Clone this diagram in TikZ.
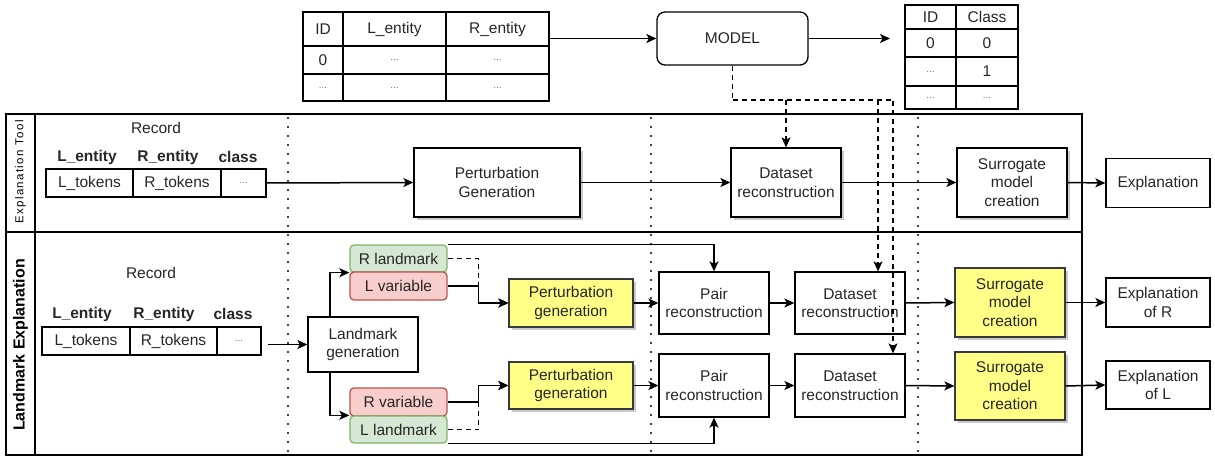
\documentclass[tikz,border=0pt]{standalone}
\usepackage{fontspec}
\setmainfont{Liberation Sans}
\newfontfamily\spacedsf[LetterSpace=12]{Liberation Sans}
\usetikzlibrary{arrows.meta,shadows}
\definecolor{notefill}{HTML}{FFFF88}
\definecolor{notedraw}{HTML}{36393D}
\definecolor{lmfill}{HTML}{D5E8D4}
\definecolor{lmdraw}{HTML}{82B366}
\definecolor{varfill}{HTML}{F8CECC}
\definecolor{vardraw}{HTML}{B85450}

\begin{document}
\begin{tikzpicture}[x=1pt, y=-1pt,
    font=\fontsize{15.5}{18.5}\selectfont, text=black!85,
    box/.style = {draw, line width=1.3pt, align=center, inner sep=1pt},
    shbox/.style = {box, fill=white, drop shadow={shadow xshift=3pt, shadow yshift=-3pt, fill=black!35, opacity=.6}},
    note/.style = {shbox, fill=notefill, draw=notedraw},
    lmk/.style = {box, rounded corners=4pt, fill=lmfill, draw=lmdraw, minimum width=97pt},
    var/.style = {box, rounded corners=4pt, fill=varfill, draw=vardraw, minimum width=97pt},
    cell/.style = {draw, line width=1.3pt, inner sep=0pt},
    dotcell/.style = {cell, font=\fontsize{10}{11}\selectfont, text=black!55},
    hd/.style = {font=\fontsize{15.5}{18.5}\selectfont\bfseries},
    arr/.style = {-{Stealth[length=10pt, width=9pt, inset=2.5pt]}, line width=1.5pt},
    dsh/.style = {dash pattern=on 5pt off 4pt, line width=1.1pt},
    sep/.style = {line width=2.3pt, dash pattern=on 0pt off 9pt, line cap=round}]
  \useasboundingbox (0,0) rectangle (1215,457);

  % lanes
  \draw[line width=1.5pt] (6,114) rectangle (1082,232);
  \draw[line width=1.5pt] (6,232) rectangle (1082,455);
  \draw[line width=1.5pt] (35,114) -- (35,455);
  \node[rotate=90, font=\fontsize{11.5}{13}\spacedsf, text=black] (tooltitle) at (20.5,172) {Explanation Tool};
  \node[rotate=90, font=\fontsize{16}{18}\selectfont\bfseries, text=black] (lmtitle) at (20.5,345) {Landmark Explanation};
  \draw[sep] (288,118) -- (288,455);
  \draw[sep] (651,118) -- (651,455);
  \draw[sep] (918,118) -- (918,455);

  % input table
  \node[cell, minimum width=40pt, minimum height=34pt] (in11) at (323,29) {ID};
  \node[cell, minimum width=103pt, minimum height=34pt] (in12) at (394.5,29) {L\_entity};
  \node[cell, minimum width=103pt, minimum height=34pt] (in13) at (497.5,29) {R\_entity};
  \node[cell, minimum width=40pt, minimum height=28pt] (in21) at (323,60) {0};
  \node[dotcell, minimum width=103pt, minimum height=28pt] (in22) at (394.5,60) {...};
  \node[dotcell, minimum width=103pt, minimum height=28pt] (in23) at (497.5,60) {...};
  \node[dotcell, minimum width=40pt, minimum height=27pt] (in31) at (323,87.5) {...};
  \node[dotcell, minimum width=103pt, minimum height=27pt] (in32) at (394.5,87.5) {...};
  \node[dotcell, minimum width=103pt, minimum height=27pt] (in33) at (497.5,87.5) {...};

  \node[box, rounded corners=8pt, minimum width=151pt, minimum height=53pt] (model) at (732.5,38.5) {MODEL};

  % output table
  \node[cell, minimum width=51pt, minimum height=24pt] (out11) at (930.5,17) {ID};
  \node[cell, minimum width=62pt, minimum height=24pt] (out12) at (987,17) {Class};
  \node[cell, minimum width=51pt, minimum height=28pt] (out21) at (930.5,43) {0};
  \node[cell, minimum width=62pt, minimum height=28pt] (out22) at (987,43) {0};
  \node[dotcell, minimum width=51pt, minimum height=29pt] (out31) at (930.5,71.5) {...};
  \node[cell, minimum width=62pt, minimum height=29pt] (out32) at (987,71.5) {1};
  \node[dotcell, minimum width=51pt, minimum height=23pt] (out41) at (930.5,97.5) {...};
  \node[dotcell, minimum width=62pt, minimum height=23pt] (out42) at (987,97.5) {...};

  \coordinate (mout) at (890,38.5);
  \draw[arr] (model.west -| in13.east) -- (model.west);
  \draw[arr] (model.east) -- (mout);

  % explanation tool
  \node (rec1) at (156,128) {Record};
  \node[hd] (h1l) at (87,157) {L\_entity};
  \node[hd] (h1r) at (168,157) {R\_entity};
  \node[hd] (h1c) at (238,157) {class};
  \node[cell, minimum width=87pt, minimum height=28pt] (t1) at (89.5,183) {L\_tokens};
  \node[cell, minimum width=88pt, minimum height=28pt] (t2) at (177,183) {R\_tokens};
  \node[dotcell, minimum width=45pt, minimum height=28pt] (t3) at (243.5,183) {...};
  \node[shbox, minimum width=166pt, minimum height=69pt] (perturb) at (497,182.5) {Perturbation\\Generation};
  \node[shbox, minimum width=110pt, minimum height=69pt] (dataset) at (786,182.5) {Dataset\\reconstruction};
  \node[shbox, minimum width=110pt, minimum height=69pt] (surr) at (1012,182.5) {Surrogate\\model\\creation};
  \node[box, minimum width=104pt, minimum height=49pt] (expl) at (1158,183) {Explanation};

  \draw[arr] (t3.east) -- (perturb.west);
  \draw[arr] (perturb.east) -- (dataset.west);
  \draw[arr] (dataset.east) -- (surr.west);
  \draw[arr] (surr.east) -- (expl.west);

  % landmark explanation
  \node (rec2) at (151,272.5) {Record};
  \node[hd] (h2l) at (82,314) {L\_entity};
  \node[hd] (h2r) at (164,314) {R\_entity};
  \node[hd] (h2c) at (233,314) {class};
  \node[cell, minimum width=88pt, minimum height=28pt] (l1) at (86,341) {L\_tokens};
  \node[cell, minimum width=87pt, minimum height=28pt] (l2) at (173.5,341) {R\_tokens};
  \node[dotcell, minimum width=44pt, minimum height=28pt] (l3) at (239,341) {...};
  \node[box, minimum width=110pt, minimum height=55pt] (lmgen) at (363,344.5) {Landmark\\generation};

  \node[lmk, minimum height=27pt] (rland) at (398.5,258.5) {R landmark};
  \node[var, minimum height=28pt] (lvar) at (398.5,286) {L variable};
  \node[var, minimum height=28pt] (rvar) at (398.5,402) {R variable};
  \node[lmk, minimum height=27pt] (lland) at (398.5,429.5) {L landmark};

  \node[note, minimum width=124pt, minimum height=48pt] (pert1) at (571,303) {Perturbation\\generation};
  \node[note, minimum width=124pt, minimum height=47pt] (pert2) at (571,385.5) {Perturbation\\generation};
  \node[box, minimum width=110pt, minimum height=62pt] (pair1) at (714,303) {Pair\\reconstruction};
  \node[box, minimum width=110pt, minimum height=63pt] (pair2) at (714,385.5) {Pair\\reconstruction};
  \node[box, minimum width=110pt, minimum height=62pt] (data1) at (850,303) {Dataset\\reconstruction};
  \node[box, minimum width=110pt, minimum height=63pt] (data2) at (850,385.5) {Dataset\\reconstruction};
  \node[note, minimum width=110pt, minimum height=69pt] (surr1) at (1010,302.5) {Surrogate\\model\\creation};
  \node[note, minimum width=110pt, minimum height=68pt] (surr2) at (1010,386) {Surrogate\\model\\creation};
  \node[box, minimum width=104pt, minimum height=49pt] (explR) at (1158,302.5) {Explanation\\of R};
  \node[box, minimum width=104pt, minimum height=48pt] (explL) at (1158,385) {Explanation\\of L};

  \coordinate (lmin) at (268,344.5);
  \draw[arr] (lmin) -- (lmgen.west);
  \draw[arr] ([xshift=-33pt]lmgen.north) |- (rland.south west);
  \draw[arr] ([xshift=-33pt]lmgen.south) |- (lland.north west);

  \draw[arr, dsh] (rland.east) -- ++(31,0) |- (pert1.west);
  \draw[arr] (lvar.east) -- ++(31,0) |- (pert1.west);
  \draw[arr] (rvar.east) -- ++(31,0) |- (pert2.west);
  \draw[arr, dsh] (lland.east) -- ++(31,0) |- (pert2.west);

  \draw[arr] (rland.north east) -| (pair1.north);
  \draw[arr] (lland.south east) -| (pair2.south);

  \draw[arr] (pert1.east) -- (pair1.west);
  \draw[arr] (pair1.east) -- (data1.west);
  \draw[arr] (data1.east) -- (surr1.west);
  \draw[arr] (surr1.east) -- (explR.west);
  \draw[arr] (pert2.east) -- (pair2.west);
  \draw[arr] (pair2.east) -- (data2.west);
  \draw[arr] (data2.east) -- (surr2.west);
  \draw[arr] (surr2.east) -- (explL.west);

  % model feeds the dataset reconstructions
  \coordinate (mfork) at (732.5,100);
  \coordinate (d1in) at ([xshift=28pt]data1.north);
  \draw[dsh] (model.south) -- (mfork);
  \draw[arr, dsh] (mfork) -| ([xshift=43pt]data2.north);
  \draw[arr, dsh] (mfork -| dataset.north) -- (dataset.north);
  \draw[arr, dsh] (mfork -| d1in) -- (d1in);
\end{tikzpicture}
\end{document}
